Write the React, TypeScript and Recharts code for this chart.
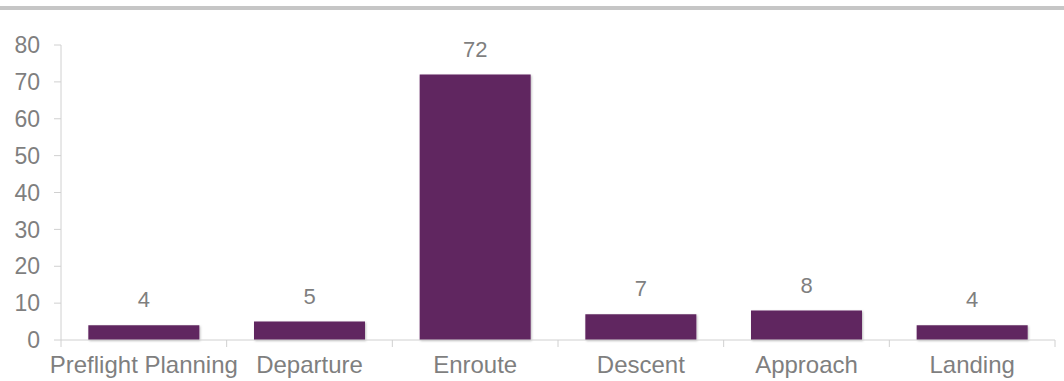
import { BarChart, Bar, XAxis, YAxis, LabelList } from "recharts";

const PHASES = ["Preflight Planning", "Departure", "Enroute", "Descent", "Approach", "Landing"];
const COUNTS = [4, 5, 72, 7, 8, 4];
const Y_TICKS = [0, 10, 20, 30, 40, 50, 60, 70, 80];

const BAR_COLOR = "#612660";
const TEXT_COLOR = "#7f7f7f";
const LINE_COLOR = "#d0d0d0";
const FONT = "'Liberation Sans', Arial, sans-serif";

const data = PHASES.map((phase, i) => ({ phase, count: COUNTS[i] }));

function PhaseTick(props: any) {
  const { x, y, payload, index } = props;
  const half = payload.offset ?? 0;
  return (
    <g>
      <line x1={x - half} x2={x - half} y1={y - 8} y2={y - 1} stroke={LINE_COLOR} />
      {index === PHASES.length - 1 && (
        <line x1={x + half} x2={x + half} y1={y - 8} y2={y - 1} stroke={LINE_COLOR} />
      )}
      <text x={x} y={y + 8} dy="0.71em" textAnchor="middle" fill={TEXT_COLOR} fontSize={24} fontFamily={FONT}>
        {payload.value}
      </text>
    </g>
  );
}

export default function App() {
  return (
    <div style={{ position: "absolute", left: 0, top: 0, width: 1064, height: 381, background: "#fff" }}>
      <div style={{ position: "absolute", left: 0, top: 6, width: 1064, height: 4, background: "#c6c6c6" }} />
      <BarChart
        width={1064}
        height={381}
        data={data}
        margin={{ top: 45, right: 9, left: 0, bottom: 0 }}
        barCategoryGap="16.5%"
      >
        <defs>
          <filter id="barShadow" x="-5%" y="-5%" width="115%" height="130%">
            <feDropShadow dx="1" dy="1" stdDeviation="1" floodColor="#000" floodOpacity="0.25" />
          </filter>
        </defs>
        <XAxis
          dataKey="phase"
          height={41}
          interval={0}
          axisLine={{ stroke: LINE_COLOR }}
          tickLine={false}
          tick={<PhaseTick />}
        />
        <YAxis
          width={61}
          domain={[0, 80]}
          ticks={Y_TICKS}
          interval={0}
          tickSize={7}
          tickMargin={14}
          axisLine={{ stroke: LINE_COLOR }}
          tickLine={{ stroke: LINE_COLOR }}
          tick={{ fill: TEXT_COLOR, fontSize: 23, fontFamily: FONT }}
        />
        <Bar dataKey="count" fill={BAR_COLOR} isAnimationActive={false} style={{ filter: "url(#barShadow)" }}>
          <LabelList
            dataKey="count"
            position="top"
            offset={18}
            fill={TEXT_COLOR}
            fontSize={22}
            fontFamily={FONT}
          />
        </Bar>
      </BarChart>
    </div>
  );
}
